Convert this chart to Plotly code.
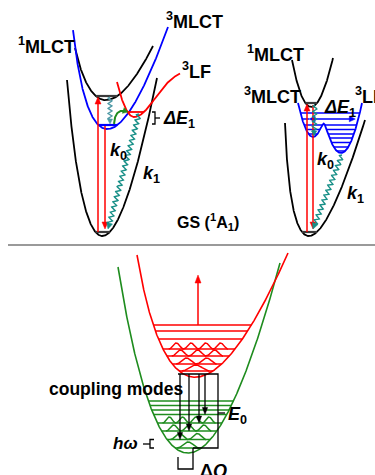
import numpy as np
import plotly.graph_objects as go

# ---------------- diagram data ----------------
# tilted-parabola potential curves: bottom (x, y), left tip (x, y), right tip (x, y)
GS_LEFT = [102, 236, 67, 80, 157, 78]
MLCT1_LEFT = [104, 100, 75, 48, 153, 46]
MLCT3_LEFT = [106, 129, 73, 30, 168, 27]
GS_RIGHT = [308, 236, 285, 123, 365, 120]
MLCT1_RIGHT = [311, 107, 292, 60, 333, 58]
EXCITED_BOTTOM = [192, 377, 137, 255, 288, 253]
GROUND_BOTTOM = [187, 453, 118, 267, 280, 263]
# 3LF Morse-like curve: minimum (x, y), left tip (x, y), plateau depth, width, end x
LF_LEFT = [134, 117, 117, 82, 48, 30, 180]
# double well: left min (x, y), right min (x, y), left x, right x, top y, smoothing
DOUBLE_WELL = [313, 137, 341, 153, 298, 362, 103, 6]

# level heights
GS_LEFT_BAR = 232
MLCT1_LEFT_BAR = 96
MLCT3_LEFT_BAR = 125
LF_LEFT_BAR = 112
GS_RIGHT_BAR = 232
MLCT1_RIGHT_BAR = 103
DW_LEVELS = [113, 119, 125, 129.5, 134, 138, 142.5, 147, 151]
DW_ARROW_LEVEL = 119
RED_LEVELS = [325, 331, 339, 349, 356, 364, 371]
RED_LOBES = [0, 0, 0, 4, 3, 2, 1]
GREEN_LEVELS = [401, 405.5, 410, 414.5, 423, 431, 439.5, 448]
GREEN_LOBES = [0, 0, 0, 0, 4, 3, 2, 1]
EMISSION_X = [180, 189, 199, 205]
EMISSION_TARGET = [439.5, 431, 423, 414.5]
EMISSION_TOP = 374

FONT = "Liberation Sans, Arial, sans-serif"
RED = "#ff0000"
BLUE = "#0000ff"
GREEN = "#1e8c1e"
TEAL = "#178f87"
BLACK = "#000000"
BAR = "#3a3a3a"

traces = []


def line(x, y, color, width=1.5):
    traces.append(go.Scatter(x=list(x), y=list(y), mode="lines",
                             line=dict(color=color, width=width),
                             hoverinfo="skip", showlegend=False))


def head(x1, y1, ux, uy, color, L=7, Wd=3):
    bx, by = x1 - ux * L, y1 - uy * L
    px, py = -uy, ux
    traces.append(go.Scatter(x=[x1, bx + px * Wd, bx - px * Wd, x1],
                             y=[y1, by + py * Wd, by - py * Wd, y1],
                             mode="lines", fill="toself", fillcolor=color,
                             line=dict(color=color, width=0.5),
                             hoverinfo="skip", showlegend=False))


def arrow(x0, y0, x1, y1, color, width=1.5, L=7, Wd=3, both=False):
    d = np.hypot(x1 - x0, y1 - y0)
    ux, uy = (x1 - x0) / d, (y1 - y0) / d
    sx, sy = (x0 + ux * L * 0.8, y0 + uy * L * 0.8) if both else (x0, y0)
    line([sx, x1 - ux * L * 0.8], [sy, y1 - uy * L * 0.8], color, width)
    head(x1, y1, ux, uy, color, L, Wd)
    if both:
        head(x0, y0, -ux, -uy, color, L, Wd)


def wavy(x0, y0, x1, y1, color, amp=2.3, wl=5.3, L=6, Wd=3):
    d = np.hypot(x1 - x0, y1 - y0)
    ux, uy = (x1 - x0) / d, (y1 - y0) / d
    px, py = -uy, ux
    t = np.linspace(0, d - L * 0.9, int(d * 8))
    off = amp * np.sin(2 * np.pi * t / wl)
    line(x0 + ux * t + px * off, y0 + uy * t + py * off, color, 1.4)
    head(x1, y1, ux, uy, color, L, Wd)


def tilted_parabola(p, n=500):
    bx, by, lx, ly, rx, ry = p
    XL, HL = lx - bx, by - ly
    XR, HR = rx - bx, by - ry
    th = np.linspace(-0.35, 0.35, 14001)
    c, s = np.cos(th), np.sin(th)
    uL = XL * c - HL * s
    vL = XL * s + HL * c
    uR = XR * c - HR * s
    vR = XR * s + HR * c
    ok = (uL < -3) & (uR > 3)
    diff = np.where(ok, np.abs(vL / uL ** 2 - vR / uR ** 2), np.inf)
    i = int(np.argmin(diff))
    a = 0.5 * (vL[i] / uL[i] ** 2 + vR[i] / uR[i] ** 2)
    u = np.linspace(uL[i], uR[i], n)
    x = bx + u * c[i] + a * u ** 2 * s[i]
    y = by + u * s[i] - a * u ** 2 * c[i]
    o = np.argsort(x)
    return x[o], y[o]


def lf_curve(p, n=300):
    mx, my, lx, ly, D, w, ex = p
    x = np.linspace(lx, ex, n)
    aL = (my - ly) / (mx - lx) ** 2
    dx = x - mx
    E = np.where(dx < 0, aL * dx ** 2, D * (1 - np.exp(-(dx / w) ** 2)))
    return x, my - E


def double_well(p, n=800):
    lx0, ly0, rx0, ry0, xl, xr, ytop, sm = p
    x = np.linspace(xl, xr, n)
    aL = (ly0 - ytop) / (lx0 - xl) ** 2
    aR = (ry0 - ytop) / (xr - rx0) ** 2
    EL = -ly0 + aL * (x - lx0) ** 2
    ER = -ry0 + aR * (x - rx0) ** 2
    E = -sm * np.logaddexp(-EL / sm, -ER / sm)
    return x, -E


def runs(x, y, Y):
    xs = np.linspace(x[0], x[-1], 4000)
    ys = np.interp(xs, x, y)
    inside = ys >= Y
    out, start = [], None
    for k, v in enumerate(inside):
        if v and start is None:
            start = k
        if start is not None and (not v or k == len(inside) - 1):
            end = k - 1 if not v else k
            if end > start:
                out.append((xs[start], xs[end]))
            start = None
    return out


def levels(curve, Ys, color, width=1.5, lobes=None, amp=6.0):
    x, y = curve
    for j, Y in enumerate(Ys):
        for xa, xb in runs(x, y, Y):
            line([xa, xb], [Y, Y], color, width)
            if lobes is not None and lobes[j] > 0:
                w = xb - xa
                x0, x1 = xa + 0.08 * w, xb - 0.1 * w
                k = lobes[j]
                t = np.linspace(0, 1, 400)
                f = (t * k) % 1.0
                g = np.clip((f - 0.07) / 0.86, 0, 1)
                line(x0 + (x1 - x0) * t, Y - amp * np.sin(np.pi * g) ** 1.3, color, width)


# ---------------- top-left panel ----------------
gsL = tilted_parabola(GS_LEFT)
s1L = tilted_parabola(MLCT1_LEFT)
t1L = tilted_parabola(MLCT3_LEFT)
lfL = lf_curve(LF_LEFT)
line(*gsL, BLACK, 1.8)
line(*s1L, BLACK, 1.8)
line(*t1L, BLUE, 1.8)
line(*lfL, RED, 1.8)
levels(gsL, [GS_LEFT_BAR], BAR, 2.2)
levels(s1L, [MLCT1_LEFT_BAR], BAR, 2.2)
levels(t1L, [MLCT3_LEFT_BAR], BLUE, 2.2)
levels(lfL, [LF_LEFT_BAR], RED, 1.8)

arrow(98, GS_LEFT_BAR, 98, MLCT1_LEFT_BAR + 1, RED)
arrow(105, MLCT3_LEFT_BAR + 1, 105, GS_LEFT_BAR - 3, RED)
wavy(110, MLCT1_LEFT_BAR + 1, 110, MLCT3_LEFT_BAR - 1, "#4f9aa6", amp=2.0, wl=5.0, L=5, Wd=2.5)
wavy(139, LF_LEFT_BAR + 2, 108, GS_LEFT_BAR - 3, TEAL)

# green hop arrow (quadratic bezier)
HOP = [114, 124, 115, 107, 128, 112]
tb = np.linspace(0, 0.9, 40)
bxs = (1 - tb) ** 2 * HOP[0] + 2 * (1 - tb) * tb * HOP[2] + tb ** 2 * HOP[4]
bys = (1 - tb) ** 2 * HOP[1] + 2 * (1 - tb) * tb * HOP[3] + tb ** 2 * HOP[5]
line(bxs, bys, GREEN, 2.0)
dd = np.hypot(HOP[4] - bxs[-1], HOP[5] - bys[-1])
head(HOP[4], HOP[5], (HOP[4] - bxs[-1]) / dd, (HOP[5] - bys[-1]) / dd, GREEN, L=5, Wd=3)

# ΔE1 bracket
line([152, 155, 155, 152], [LF_LEFT_BAR, LF_LEFT_BAR, MLCT3_LEFT_BAR - 1, MLCT3_LEFT_BAR - 1], BLACK, 1.3)
line([155, 160], [118, 118], BLACK, 1.3)

# ---------------- top-right panel ----------------
gsR = tilted_parabola(GS_RIGHT)
s1R = tilted_parabola(MLCT1_RIGHT)
dw = double_well(DOUBLE_WELL)
line(*gsR, BLACK, 1.8)
line(*s1R, BLACK, 1.8)
line(*dw, BLUE, 1.8)
levels(gsR, [GS_RIGHT_BAR], BAR, 2.2)
levels(s1R, [MLCT1_RIGHT_BAR], BAR, 2.2)
levels(dw, [v for v in DW_LEVELS if v != DW_ARROW_LEVEL], BLUE, 1.5)
xa_, xb_ = runs(dw[0], dw[1], DW_ARROW_LEVEL)[0]
arrow(xa_ + 7, DW_ARROW_LEVEL, xb_ - 3, DW_ARROW_LEVEL, BLUE, 1.5, L=6, Wd=2.8, both=True)
line([xa_, xa_ + 7], [DW_ARROW_LEVEL, DW_ARROW_LEVEL], BLUE, 1.5)

arrow(307, GS_RIGHT_BAR, 307, MLCT1_RIGHT_BAR + 1, RED)
arrow(313, MLCT1_RIGHT_BAR + 2, 313, GS_RIGHT_BAR - 3, RED)
wavy(315, MLCT1_RIGHT_BAR + 2, 314, 136, TEAL, amp=2.0, wl=5.0, L=5, Wd=2.5)
wavy(342, 155, 313, GS_RIGHT_BAR - 3, TEAL)

# divider
line([8, 375], [245, 245], "#9a9a9a", 2)

# ---------------- bottom panel ----------------
red = tilted_parabola(EXCITED_BOTTOM)
grn = tilted_parabola(GROUND_BOTTOM)
line(*grn, GREEN, 1.6)
line(*red, RED, 1.6)
levels(red, RED_LEVELS, RED, 1.5, RED_LOBES, 6.0)
levels(grn, GREEN_LEVELS, GREEN, 1.5, GREEN_LOBES, 6.0)
arrow(198, RED_LEVELS[0], 198, 275, RED, 1.5, L=8, Wd=3)

for xe, ye in zip(EMISSION_X, EMISSION_TARGET):
    arrow(xe, EMISSION_TOP, xe, ye, BLACK, 1.3, L=7, Wd=2.6)
line([178, 218, 218, 193], [EMISSION_TOP, EMISSION_TOP, GREEN_LEVELS[-1], GREEN_LEVELS[-1]], BLACK, 1.3)
line([178, 178, 193, 193], [457, 469, 469, GREEN_LEVELS[-1]], BLACK, 1.3)
line([218, 225], [413, 413], BLACK, 1.3)
line([154, 150, 150, 154], [GREEN_LEVELS[-2], GREEN_LEVELS[-2], GREEN_LEVELS[-1], GREEN_LEVELS[-1]], BLACK, 1.3)
line([143, 150], [444, 444], BLACK, 1.3)

# ---------------- labels ----------------
LABEL_TEXT = ["<sup>1</sup>MLCT", "<sup>3</sup>MLCT", "<sup>3</sup>LF", "<i>ΔE</i><sub>1</sub>",
              "<i>k</i><sub>0</sub>", "<i>k</i><sub>1</sub>", "GS (<sup>1</sup>A<sub>1</sub>)",
              "<sup>1</sup>MLCT", "<sup>3</sup>MLCT", "<i>ΔE</i><sub>1</sub>", "<sup>3</sup>LF",
              "<i>k</i><sub>0</sub>", "<i>k</i><sub>1</sub>",
              "coupling modes", "<i>E</i><sub>0</sub>", "<i>hω</i>", "Δ<i>Q</i>"]
LABEL_X = [16, 164, 180, 161, 108, 141, 175, 245, 242, 322, 353, 315, 345, 47, 226, 140, 198]
LABEL_Y = [45, 20, 70, 119, 151, 174, 222, 53, 95, 108, 95, 160, 194, 389, 415, 443, 471]
LABEL_ANCHOR = ["left", "left", "left", "left", "left", "left", "left", "left", "left", "left",
                "left", "left", "left", "left", "left", "right", "left"]
LABEL_SIZE = [18, 18, 18, 18, 18, 18, 16, 18, 18, 18, 18, 18, 18, 17.5, 18, 17, 18]

annotations = []
for t, x, y, an, sz in zip(LABEL_TEXT, LABEL_X, LABEL_Y, LABEL_ANCHOR, LABEL_SIZE):
    annotations.append(dict(x=x, y=y, xref="x", yref="y", text="<b>" + t + "</b>", showarrow=False,
                            xanchor=an, yanchor="middle", font=dict(family=FONT, size=sz, color=BLACK)))

fig = go.Figure(traces)
fig.update_layout(width=375, height=475, margin=dict(l=0, r=0, t=0, b=0),
                  paper_bgcolor="white", plot_bgcolor="white",
                  xaxis=dict(range=[0, 375], visible=False, fixedrange=True),
                  yaxis=dict(range=[475, 0], visible=False, fixedrange=True),
                  showlegend=False, hovermode=False, annotations=annotations)
fig.write_html("out.html", config={"displayModeBar": False},
               post_script="document.body.style.margin='0';")
